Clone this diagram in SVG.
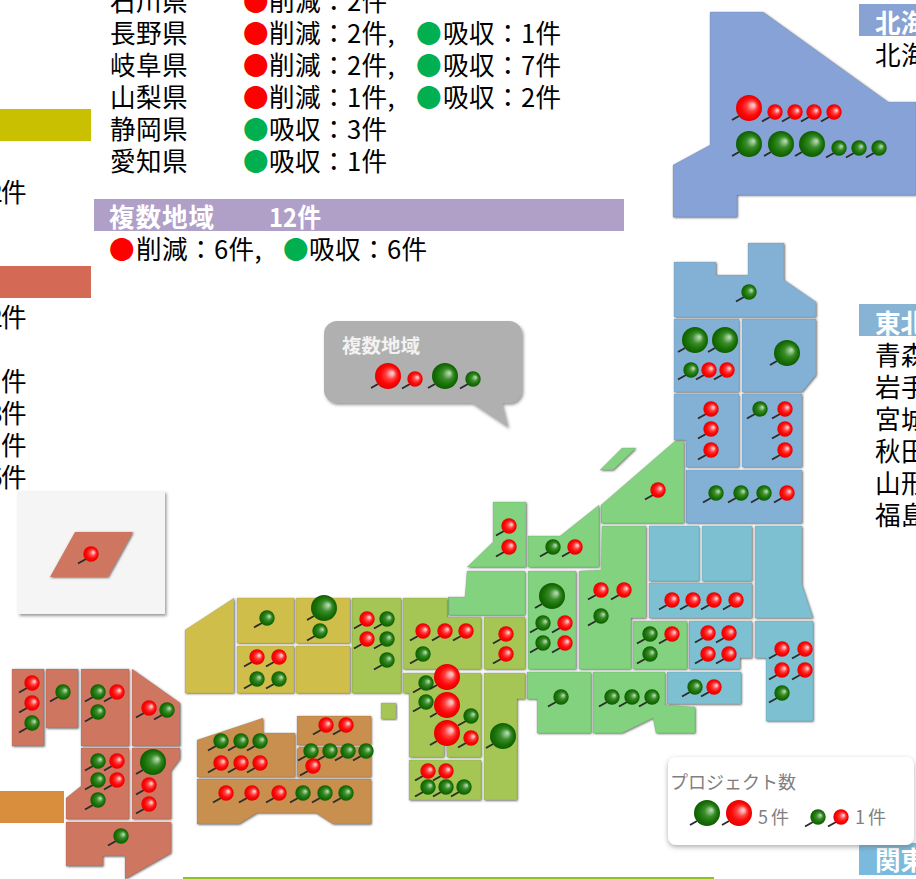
<svg xmlns="http://www.w3.org/2000/svg" xmlns:xlink="http://www.w3.org/1999/xlink" width="916" height="879" viewBox="0 0 916 879">
<style>
text{font-family:"Noto Sans CJK JP","Noto Sans CJK SC",sans-serif}
.t{font-size:25.6px;fill:#000;letter-spacing:.4px}
.h{font-size:25.6px;fill:#fff;font-weight:700}
.r{fill:#f00}.g{fill:#00b050}
.m polygon{filter:url(#bev);stroke:#000;stroke-opacity:.12;stroke-width:.6}
.hk polygon{fill:#87a2d6}.th polygon{fill:#83b1d5}.kt polygon{fill:#7cc0d2}.cb polygon{fill:#82d27f}.kk polygon{fill:#a5c655}.cg polygon{fill:#d0be4b}.sk polygon{fill:#c98f50}.ks polygon{fill:#cf7660}
.st{stroke:#2c2c2c;stroke-width:2;fill:none}
.lg{fill:#808080;font-size:18px}
.lw{letter-spacing:3px}
</style>
<defs>
<filter id="bev" x="-10%" y="-10%" width="120%" height="120%"><feDropShadow dx="0.8" dy="0.8" stdDeviation="1.1" flood-color="#444" flood-opacity=".8"/></filter>
<filter id="sh" x="-10%" y="-10%" width="120%" height="120%"><feDropShadow dx="1.5" dy="2" stdDeviation="1.5" flood-color="#555" flood-opacity=".6"/></filter>
<filter id="sh2" x="-10%" y="-10%" width="120%" height="120%"><feDropShadow dx="0" dy="2" stdDeviation="2.5" flood-color="#666" flood-opacity=".55"/></filter>
<radialGradient id="gr" cx="50%" cy="50%" r="50%" fx="68%" fy="38%"><stop offset="0" stop-color="#ffd0d0"/><stop offset=".14" stop-color="#ffb0b0"/><stop offset=".4" stop-color="#ff4040"/><stop offset=".68" stop-color="#ff0808"/><stop offset="1" stop-color="#e40000"/></radialGradient>
<radialGradient id="gg" cx="50%" cy="50%" r="50%" fx="68%" fy="38%"><stop offset="0" stop-color="#c0e0b8"/><stop offset=".14" stop-color="#98c890"/><stop offset=".42" stop-color="#3c8c2c"/><stop offset=".72" stop-color="#1a7408"/><stop offset="1" stop-color="#0f5c02"/></radialGradient>
<g id="sr"><path class="st" d="M-5,5-13,9.5"/><circle r="7.7" fill="url(#gr)"/></g>
<g id="sg"><path class="st" d="M-5,5-13,9.5"/><circle r="7.7" fill="url(#gg)"/></g>
<g id="lr"><path class="st" d="M-10,8-17,12"/><circle r="13" fill="url(#gr)"/></g>
<g id="lg"><path class="st" d="M-10,8-17,12"/><circle r="13" fill="url(#gg)"/></g>
</defs>

<g id="bars">
<rect x="0" y="109" width="91" height="32" fill="#c8c000"/>
<rect x="0" y="266" width="91" height="32" fill="#d46a56"/>
<rect x="0" y="791" width="64" height="32" fill="#d88e3c"/>
<rect x="94" y="199" width="530" height="32" fill="#b0a0c8"/>
<rect x="859" y="4" width="57" height="32" fill="#87a2d3"/>
<rect x="859" y="304" width="57" height="32" fill="#87b3d5"/>
<rect x="859" y="843" width="57" height="32" fill="#7abadc"/>
<rect x="183" y="877" width="531" height="2" fill="#90c31f"/>
</g>

<g id="list">
<text class="t" x="110" y="11">石川県</text><text class="t r" x="243" y="11">●</text><text class="t" x="269" y="11">削減：2件</text>
<text class="t" x="110" y="43">長野県</text><text class="t r" x="243" y="43">●</text><text class="t" x="269" y="43">削減：2件,</text><text class="t g" x="416" y="43">●</text><text class="t" x="443" y="43">吸収：1件</text>
<text class="t" x="110" y="75">岐阜県</text><text class="t r" x="243" y="75">●</text><text class="t" x="269" y="75">削減：2件,</text><text class="t g" x="416" y="75">●</text><text class="t" x="443" y="75">吸収：7件</text>
<text class="t" x="110" y="107">山梨県</text><text class="t r" x="243" y="107">●</text><text class="t" x="269" y="107">削減：1件,</text><text class="t g" x="416" y="107">●</text><text class="t" x="443" y="107">吸収：2件</text>
<text class="t" x="110" y="139">静岡県</text><text class="t g" x="243" y="139">●</text><text class="t" x="269" y="139">吸収：3件</text>
<text class="t" x="110" y="171">愛知県</text><text class="t g" x="243" y="171">●</text><text class="t" x="269" y="171">吸収：1件</text>
<text class="h" x="109" y="227" textLength="105">複数地域</text><text class="h" x="269" y="227" textLength="52" lengthAdjust="spacingAndGlyphs">12件</text>
<text class="t r" x="109" y="259">●</text><text class="t" x="136" y="259">削減：6件,</text><text class="t g" x="283" y="259">●</text><text class="t" x="309" y="259">吸収：6件</text>
<text class="t" x="27" y="202" text-anchor="end">2<tspan dx="-2">件</tspan></text>
<text class="t" x="27" y="327" text-anchor="end">2<tspan dx="-2">件</tspan></text>
<text class="t" x="27" y="391" text-anchor="end">1件</text>
<text class="t" x="27" y="423" text-anchor="end">3<tspan dx="-2">件</tspan></text>
<text class="t" x="27" y="455" text-anchor="end">1件</text>
<text class="t" x="27" y="487" text-anchor="end">5<tspan dx="-2">件</tspan></text>
<text class="h" x="875" y="33">北海</text><text class="t" x="875" y="65">北海</text>
<text class="h" x="875" y="333">東北</text>
<text class="t" x="875" y="365">青森</text><text class="t" x="875" y="397">岩手</text><text class="t" x="875" y="429">宮城</text><text class="t" x="875" y="461">秋田</text><text class="t" x="875" y="493">山形</text><text class="t" x="875" y="525">福島</text>
<text class="h" x="875" y="870">関東</text>
</g>

<g id="okinawa-box">
<rect x="18" y="491" width="147" height="123" fill="#f5f5f5" filter="url(#sh)"/>
<polygon points="75,532 133,532 108,577 50,577" fill="#cf7660" filter="url(#bev)"/>
<use xlink:href="#sr" x="91" y="554"/>
</g>

<g id="map" class="m">
<g id="hokkaido" class="hk"><polygon points="710,12 763,12 888,102 916,102 916,195 737,195 737,217 673,217 673,165 710,145"/></g>
<g id="tohoku" class="th">
<polygon points="674,262 716,262 716,275 748,275 748,243 784,243 784,280 816,302 816,317 674,317"/>
<polygon points="674,319 739,319 739,392 674,392"/>
<polygon points="742,319 816,319 816,375 802,392 742,392"/>
<polygon points="674,394 739,394 739,467 686,467 686,440 674,440"/>
<polygon points="742,394 802,394 802,467 742,467"/>
<polygon points="686,470 802,470 802,523 686,523"/>
</g>
<g id="kanto" class="kt">
<polygon points="649,526 699,526 699,581 649,581"/>
<polygon points="702,526 752,526 752,581 702,581"/>
<polygon points="755,526 802,526 802,585 813,618 755,618"/>
<polygon points="649,583 752,583 752,618 649,618"/>
<polygon points="689,621 752,621 752,658 740,658 740,669 689,669"/>
<polygon points="755,621 813,621 813,721 766,721 766,658 755,658"/>
<polygon points="667,672 741,672 741,704 667,704"/>
</g>
<g id="chubu" class="cb">
<polygon points="601,505 675,441 684,441 684,523 601,523"/>
<polygon points="600,470 622,448 636,448 613,470"/>
<polygon points="493,502 526,502 526,567 467,567 493,542"/>
<polygon points="528,536 560,536 599,505 599,567 528,567"/>
<polygon points="467,571 525,571 525,615 448,615 448,597 465,597"/>
<polygon points="528,571 576,571 576,669 528,669"/>
<polygon points="602,526 646,526 646,618 631,618 631,669 579,669 579,571 601,570"/>
<polygon points="633,621 687,621 687,669 633,669"/>
<polygon points="527,672 591,672 591,733 537,733 537,699 527,699"/>
<polygon points="593,672 665,672 665,705 695,707 695,733 656,733 653,718 622,733 593,733"/>
</g>
<g id="kinki" class="kk">
<polygon points="352,598 401,598 401,693 352,693"/>
<polygon points="403,598 447,598 447,617 481,617 481,669 403,669"/>
<polygon points="484,617 525,617 525,669 484,669"/>
<polygon points="403,673 481,673 481,757 447,757 446,737 444,737 444,757 409,757 409,693 403,693"/>
<polygon points="409,760 481,760 481,800 409,800"/>
<polygon points="484,673 525,673 525,699 517,699 517,800 484,800"/>
<polygon points="381,703 396,703 396,719 381,719"/>
</g>
<g id="chugoku" class="cg">
<polygon points="185,630 234,598 234,693 185,693"/>
<polygon points="237,598 294,598 294,643 237,643"/>
<polygon points="296,598 350,598 350,643 296,643"/>
<polygon points="237,646 294,646 294,693 237,693"/>
<polygon points="296,646 350,646 350,693 296,693"/>
</g>
<g id="shikoku" class="sk">
<polygon points="197,740 263,718 263,733 295,733 295,777 197,777"/>
<polygon points="297,716 371,716 371,745 297,745"/>
<polygon points="299,747 371,747 371,777 297,777 297,749"/>
<polygon points="197,779 371,779 371,824 333,824 316,813 257,813 239,824 197,824"/>
</g>
<g id="kyushu" class="ks">
<polygon points="12,669 44,669 44,746 12,746"/>
<polygon points="46,669 78,669 78,728 46,728"/>
<polygon points="81,669 129,669 129,746 81,746"/>
<polygon points="132,669 180,703 180,746 132,746"/>
<polygon points="81,748 129,748 129,819 66,819 66,798 81,786"/>
<polygon points="132,748 180,748 180,759 171,771 171,819 132,819"/>
<polygon points="66,822 171,822 171,853 125,879 125,856 103,856 103,866 66,866"/>
</g>
</g>

<g id="pins">
<use xlink:href="#lr" x="749" y="108"/><use xlink:href="#sr" x="775" y="112"/><use xlink:href="#sr" x="795" y="112"/><use xlink:href="#sr" x="814" y="112"/><use xlink:href="#sr" x="834" y="112"/>
<use xlink:href="#lg" x="749" y="144"/><use xlink:href="#lg" x="781" y="144"/><use xlink:href="#lg" x="812" y="144"/><use xlink:href="#sg" x="839" y="148"/><use xlink:href="#sg" x="859" y="148"/><use xlink:href="#sg" x="879" y="148"/>
<use xlink:href="#sg" x="749" y="292"/>
<use xlink:href="#lg" x="695" y="340"/><use xlink:href="#lg" x="725" y="340"/><use xlink:href="#sg" x="691" y="370"/><use xlink:href="#sr" x="709" y="370"/><use xlink:href="#sr" x="727" y="370"/>
<use xlink:href="#lg" x="787" y="353"/>
<use xlink:href="#sr" x="711" y="409"/><use xlink:href="#sr" x="711" y="429"/><use xlink:href="#sr" x="711" y="450"/>
<use xlink:href="#sg" x="760" y="409"/><use xlink:href="#sr" x="785" y="409"/><use xlink:href="#sr" x="785" y="429"/><use xlink:href="#sr" x="785" y="450"/>
<use xlink:href="#sg" x="716" y="493"/><use xlink:href="#sg" x="741" y="493"/><use xlink:href="#sg" x="764" y="493"/><use xlink:href="#sr" x="787" y="493"/>
<use xlink:href="#sr" x="658" y="490"/>
<use xlink:href="#sr" x="509" y="526"/><use xlink:href="#sr" x="509" y="547"/>
<use xlink:href="#sg" x="553" y="547"/><use xlink:href="#sr" x="575" y="547"/>
<use xlink:href="#lg" x="552" y="596"/><use xlink:href="#sg" x="543" y="623"/><use xlink:href="#sr" x="565" y="623"/><use xlink:href="#sg" x="543" y="643"/><use xlink:href="#sr" x="565" y="643"/>
<use xlink:href="#sr" x="601" y="590"/><use xlink:href="#sr" x="624" y="590"/><use xlink:href="#sg" x="601" y="616"/>
<use xlink:href="#sr" x="672" y="600"/><use xlink:href="#sr" x="693" y="600"/><use xlink:href="#sr" x="714" y="600"/><use xlink:href="#sr" x="736" y="600"/>
<use xlink:href="#sg" x="650" y="634"/><use xlink:href="#sr" x="672" y="634"/><use xlink:href="#sg" x="650" y="654"/>
<use xlink:href="#sr" x="708" y="633"/><use xlink:href="#sr" x="729" y="633"/><use xlink:href="#sr" x="708" y="654"/><use xlink:href="#sr" x="729" y="654"/>
<use xlink:href="#sr" x="782" y="649"/><use xlink:href="#sr" x="805" y="649"/><use xlink:href="#sr" x="782" y="670"/><use xlink:href="#sr" x="805" y="670"/><use xlink:href="#sg" x="782" y="693"/>
<use xlink:href="#sg" x="695" y="687"/><use xlink:href="#sr" x="714" y="687"/>
<use xlink:href="#sg" x="561" y="697"/>
<use xlink:href="#sg" x="612" y="697"/><use xlink:href="#sg" x="632" y="697"/><use xlink:href="#sg" x="652" y="697"/>
<use xlink:href="#sg" x="267" y="618"/><use xlink:href="#lg" x="324" y="608"/><use xlink:href="#sg" x="320" y="631"/>
<use xlink:href="#sr" x="257" y="657"/><use xlink:href="#sr" x="279" y="657"/><use xlink:href="#sg" x="257" y="679"/><use xlink:href="#sg" x="279" y="679"/>
<use xlink:href="#sr" x="367" y="619"/><use xlink:href="#sg" x="387" y="619"/><use xlink:href="#sr" x="367" y="639"/><use xlink:href="#sg" x="387" y="639"/><use xlink:href="#sg" x="387" y="660"/>
<use xlink:href="#sr" x="423" y="631"/><use xlink:href="#sr" x="445" y="631"/><use xlink:href="#sr" x="466" y="631"/><use xlink:href="#sg" x="423" y="654"/>
<use xlink:href="#sr" x="506" y="634"/><use xlink:href="#sr" x="506" y="654"/>
<use xlink:href="#sg" x="426" y="683"/><use xlink:href="#sg" x="426" y="702"/><use xlink:href="#sg" x="471" y="716"/><use xlink:href="#sr" x="471" y="738"/>
<use xlink:href="#lr" x="447" y="677"/><use xlink:href="#lr" x="447" y="705"/><use xlink:href="#lr" x="447" y="733"/>
<use xlink:href="#sr" x="428" y="771"/><use xlink:href="#sr" x="446" y="771"/><use xlink:href="#sg" x="428" y="787"/><use xlink:href="#sg" x="446" y="787"/><use xlink:href="#sg" x="464" y="787"/>
<use xlink:href="#lg" x="503" y="736"/>
<use xlink:href="#sg" x="221" y="741"/><use xlink:href="#sg" x="241" y="741"/><use xlink:href="#sg" x="260" y="741"/><use xlink:href="#sr" x="221" y="763"/><use xlink:href="#sr" x="241" y="763"/><use xlink:href="#sr" x="260" y="763"/>
<use xlink:href="#sr" x="326" y="725"/><use xlink:href="#sr" x="346" y="725"/>
<use xlink:href="#sg" x="311" y="751"/><use xlink:href="#sg" x="330" y="751"/><use xlink:href="#sg" x="348" y="751"/><use xlink:href="#sg" x="366" y="751"/><use xlink:href="#sr" x="313" y="766"/>
<use xlink:href="#sr" x="226" y="793"/><use xlink:href="#sr" x="252" y="793"/><use xlink:href="#sr" x="279" y="793"/><use xlink:href="#sg" x="303" y="793"/><use xlink:href="#sg" x="325" y="793"/><use xlink:href="#sg" x="346" y="793"/>
<use xlink:href="#sr" x="32" y="683"/><use xlink:href="#sr" x="32" y="703"/><use xlink:href="#sg" x="32" y="723"/>
<use xlink:href="#sg" x="63" y="692"/>
<use xlink:href="#sg" x="98" y="692"/><use xlink:href="#sr" x="117" y="692"/><use xlink:href="#sg" x="98" y="712"/>
<use xlink:href="#sr" x="149" y="708"/><use xlink:href="#sg" x="167" y="710"/>
<use xlink:href="#sg" x="98" y="761"/><use xlink:href="#sr" x="117" y="761"/><use xlink:href="#sg" x="98" y="780"/><use xlink:href="#sr" x="117" y="780"/><use xlink:href="#sg" x="98" y="800"/>
<use xlink:href="#lg" x="153" y="762"/><use xlink:href="#sr" x="149" y="785"/><use xlink:href="#sr" x="149" y="804"/>
<use xlink:href="#sg" x="121" y="836"/>
</g>

<g id="bubble">
<path d="M337,321H509a13,13 0 0 1 13,13V390a13,13 0 0 1-13,13H502L508,427 472,403H337a13,13 0 0 1-13-13V334a13,13 0 0 1 13-13Z" fill="#b0b0b0" filter="url(#sh)"/>
<text x="342" y="353" font-size="19.5" font-weight="700" fill="#f2f2f2">複数地域</text>
<use xlink:href="#lr" x="388" y="376"/><use xlink:href="#sr" x="415" y="379"/><use xlink:href="#lg" x="445" y="376"/><use xlink:href="#sg" x="473" y="379"/>
</g>

<g id="legend">
<rect x="668" y="757" width="246" height="88" rx="8" fill="#fff" filter="url(#sh2)"/>
<text class="lg" x="670" y="789">プロジェクト数</text>
<use xlink:href="#lg" x="707" y="813"/><use xlink:href="#lr" x="739" y="813"/>
<text class="lg lw" x="758" y="824">5件</text>
<use xlink:href="#sg" x="818" y="817"/><use xlink:href="#sr" x="841" y="817"/>
<text class="lg lw" x="855" y="824">1件</text>
</g>
</svg>
